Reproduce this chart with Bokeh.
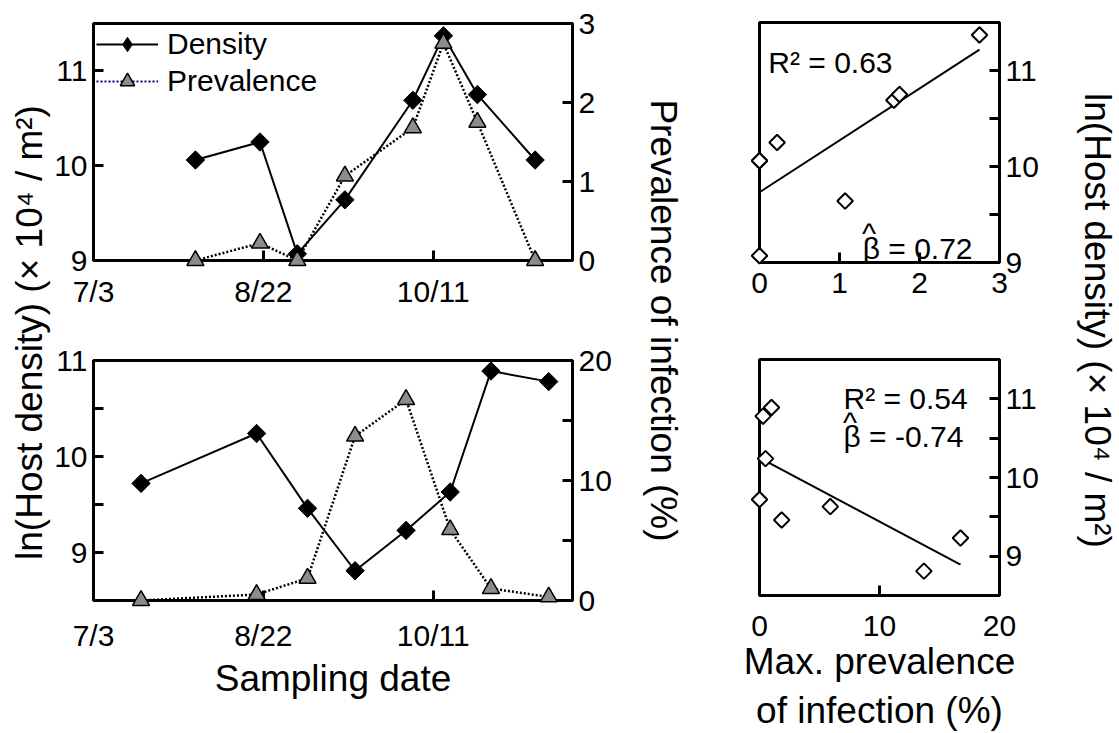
import datetime as dt
import math
import numpy as np
from bokeh.plotting import figure
from bokeh.models import Range1d, LinearAxis, FixedTicker, Legend, LegendItem, Label
from bokeh.layouts import row, column
from bokeh.embed import file_html
from bokeh.resources import INLINE

FONT = "Liberation Sans"
TICK_PX = "30px"
TITLE_PX = "37px"
TOTAL_H = 733

# ---------------- data ----------------
tick_dates = ["7/3", "8/22", "10/11"]
axis_end_date = "11/21"

site1_dates = ["8/2", "8/21", "9/1", "9/15", "10/5", "10/14", "10/24", "11/10"]
site1_density = [10.06, 10.25, 9.07, 9.64, 10.69, 11.37, 10.75, 10.06]
site1_prevalence = [0.0, 0.22, 0.0, 1.07, 1.68, 2.75, 1.75, 0.0]

site2_dates = ["7/17", "8/20", "9/4", "9/18", "10/3", "10/16", "10/28", "11/14"]
site2_density = [9.72, 10.24, 9.46, 8.81, 9.23, 9.63, 10.89, 10.78]
site2_prevalence = [0.0, 0.5, 1.85, 13.7, 16.75, 5.9, 1.0, 0.3]

stats1 = ["R² = 0.63", "β = 0.72"]
stats2 = ["R² = 0.54", "β = -0.74"]
hat = "^"

density_title = "ln(Host density) (× 10⁴ / m²)"
prevalence_title = "Prevalence of infection (%)"
date_title = "Sampling date"
maxprev_title = "Max. prevalence\nof infection (%)"


def day(s):
    m, d = (int(v) for v in s.split("/"))
    return (dt.date(2001, m, d) - dt.date(2001, 7, 3)).days


x1 = [day(s) for s in site1_dates]
x2 = [day(s) for s in site2_dates]
date_ticks = [day(s) for s in tick_dates]
date_labels = {day(s): s for s in tick_dates}


def base_fig(width, height, left, right, top, bottom, x_range, y_range, y_loc):
    p = figure(width=width, height=height, x_range=x_range, y_range=y_range,
               output_backend="svg", toolbar_location=None,
               x_axis_location="below", y_axis_location=y_loc,
               min_border_left=left, min_border_right=right,
               min_border_top=top, min_border_bottom=bottom)
    p.xgrid.visible = False
    p.ygrid.visible = False
    p.outline_line_color = "black"
    p.outline_line_width = 3
    p.background_fill_color = "white"
    p.border_fill_color = "white"
    return p


def style_axis(ax, standoff):
    ax.axis_line_width = 3
    ax.axis_line_color = "black"
    ax.major_tick_in = 10
    ax.major_tick_out = 0
    ax.minor_tick_in = 10
    ax.minor_tick_out = 0
    ax.major_tick_line_width = 3
    ax.minor_tick_line_width = 3
    ax.major_tick_line_color = "black"
    ax.minor_tick_line_color = "black"
    ax.major_label_text_font = FONT
    ax.major_label_text_font_size = TICK_PX
    ax.major_label_text_color = "black"
    ax.major_label_standoff = standoff
    ax.axis_label_text_font = FONT
    ax.axis_label_text_font_size = TITLE_PX
    ax.axis_label_text_font_style = "normal"
    ax.axis_label_text_color = "black"


LEFT_BORDER = 41


def time_panel(height, top, bottom, dates, dens, prev, dens_range, prev_range,
               dens_ticks, dens_minor, prev_ticks, prev_minor, x_standoff):
    p = base_fig(LEFT_BORDER + 480 + 48, height, LEFT_BORDER, 48, top, bottom,
                 Range1d(0, day(axis_end_date)), Range1d(*dens_range), "left")
    p.extra_y_ranges = {"prev": Range1d(*prev_range)}
    right_ax = LinearAxis(y_range_name="prev")
    p.add_layout(right_ax, "right")
    xa = p.xaxis[0]
    xa.ticker = FixedTicker(ticks=date_ticks)
    xa.major_label_overrides = date_labels
    style_axis(xa, x_standoff)
    la = p.yaxis[0]
    la.ticker = FixedTicker(ticks=dens_ticks, minor_ticks=dens_minor)
    style_axis(la, 6)
    right_ax.ticker = FixedTicker(ticks=prev_ticks, minor_ticks=prev_minor)
    style_axis(right_ax, 6)

    dl = p.line(dates, dens, line_color="black", line_width=2, level="overlay")
    p.scatter(dates, dens, marker="square", angle=math.pi / 4, size=13,
              fill_color="black", line_color="black", line_width=1, level="overlay")
    p.line(dates, prev, y_range_name="prev", line_color="black", line_width=2.5,
           line_dash="2 2", level="overlay")
    pm = p.scatter(dates, prev, y_range_name="prev", marker="triangle", size=17,
                   fill_color="#8c8c8c", line_color="black", line_width=1.5, level="overlay")
    return p, dl, pm


def scatter_panel(height, top, bottom, right, frame_w, prev, dens, x_range, x_ticks,
                  y_range, x_standoff):
    p = base_fig(69 + frame_w + right, height, 69, right, top, bottom,
                 Range1d(*x_range), Range1d(*y_range), "right")
    xa = p.xaxis[0]
    xa.ticker = FixedTicker(ticks=x_ticks)
    style_axis(xa, x_standoff)
    ya = p.yaxis[0]
    ya.ticker = FixedTicker(ticks=[9, 10, 11], minor_ticks=[9.5, 10.5])
    style_axis(ya, 6)
    slope, icpt = np.polyfit(prev, dens, 1)
    xs = np.array([min(prev), max(prev)])
    p.line(xs, slope * xs + icpt, line_color="black", line_width=2, level="overlay")
    p.scatter(prev, dens, marker="square", angle=math.pi / 4, size=11,
              fill_color="white", line_color="black", line_width=2, level="overlay")
    return p


def stat_label(p, x, y, text, align="left"):
    p.add_layout(Label(x=x, y=y, text=text, text_align=align, text_baseline="alphabetic",
                       text_font=FONT, text_font_size=TICK_PX, text_color="black"))


# ---------------- top-left ----------------
A, dlA, pmA = time_panel(310, 23, 47, x1, site1_density, site1_prevalence,
                         (9, 11.5), (0, 3), [9, 10, 11], [], [0, 1, 2, 3], [], 14)
nan = [float("nan")]
leg_dia = A.scatter(nan, nan, marker="diamond", fill_color="black", line_color="black")
leg_dot = A.line(nan, nan, line_color="#000080", line_width=2, line_dash="2 2")
legend = Legend(items=[LegendItem(label="Density", renderers=[dlA, leg_dia]),
                       LegendItem(label="Prevalence", renderers=[leg_dot, pmA])],
                location="top_left", margin=3, padding=0, spacing=1,
                glyph_width=62, glyph_height=36, label_height=36, label_standoff=9,
                label_text_font=FONT, label_text_font_size=TICK_PX, label_text_color="black",
                border_line_color=None, background_fill_alpha=0)
A.add_layout(legend)

# ---------------- bottom-left ----------------
C, _, _ = time_panel(TOTAL_H - 310, 50, 133, x2, site2_density, site2_prevalence,
                     (8.5, 11), (0, 20), [9, 10, 11], [9.5, 10.5], [0, 10, 20], [5, 15], 18)
C.xaxis[0].axis_label = date_title
C.xaxis[0].axis_label_standoff = 3

# ---------------- top-right ----------------
B = scatter_panel(310, 22, 48, 69, 242, site1_prevalence, site1_density,
                  (0, 3), [0, 1, 2, 3], (9, 11.5), 10)
stat_label(B, 0.11, 11.08, stats1[0])
stat_label(B, 1.29, 9.15, stats1[1])
stat_label(B, 1.37, 9.30, hat, "center")

# ---------------- bottom-right ----------------
D = scatter_panel(TOTAL_H - 310, 49, 136, 71, 240, site2_prevalence, site2_density,
                  (0, 20), [0, 10, 20], (8.5, 11.5), 20)
D.xaxis[0].axis_label = maxprev_title
D.xaxis[0].axis_label_standoff = 2
stat_label(D, 7.0, 11.01, stats2[0])
stat_label(D, 7.0, 10.52, stats2[1])
stat_label(D, 7.55, 10.70, hat, "center")


# ---------------- shared axis titles ----------------
def title_fig(width, text, angle, cx, cy_from_top):
    f = figure(width=width, height=TOTAL_H, x_range=Range1d(0, width),
               y_range=Range1d(0, TOTAL_H),
               output_backend="svg", toolbar_location=None, min_border=0,
               x_axis_location=None, y_axis_location=None)
    f.xgrid.visible = False
    f.ygrid.visible = False
    f.outline_line_color = None
    f.background_fill_color = "white"
    f.border_fill_color = "white"
    f.add_layout(Label(x=cx, y=TOTAL_H - cy_from_top, text=text, angle=angle,
                       text_align="center", text_baseline="middle", text_font=FONT,
                       text_font_size=TITLE_PX, text_color="black"))
    return f


TL_W = 92 - LEFT_BORDER
TL = title_fig(TL_W, density_title, math.pi / 2, 29, 332)
TM = title_fig(70, prevalence_title, -math.pi / 2, 43, 320)
TR = title_fig(49, density_title, -math.pi / 2, 27, 320)

layout = row(TL, column(A, C, spacing=0), TM, column(B, D, spacing=0), TR, spacing=0)

open("out.html", "w").write(file_html(layout, INLINE))
